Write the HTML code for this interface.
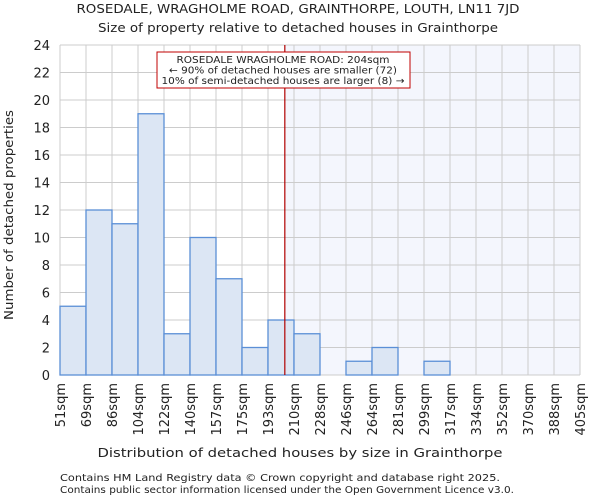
<!DOCTYPE html>
<html><head><meta charset="utf-8"><style>
body{margin:0;background:#fff;font-family:"DejaVu Sans","Liberation Sans",sans-serif}
svg text{font-family:"DejaVu Sans","Liberation Sans",sans-serif;fill:#222}
</style></head><body>
<svg id="c" width="600" height="500">
<text x="298" y="13" font-size="12.5" text-anchor="middle" textLength="443" lengthAdjust="spacingAndGlyphs">ROSEDALE, WRAGHOLME ROAD, GRAINTHORPE, LOUTH, LN11 7JD</text>
<text x="298" y="32" font-size="12.5" text-anchor="middle" textLength="400" lengthAdjust="spacingAndGlyphs">Size of property relative to detached houses in Grainthorpe</text>
<g id="grid"></g><g id="bars"></g><g id="axes"></g>
<text x="300" y="457" font-size="12.5" text-anchor="middle" textLength="405" lengthAdjust="spacingAndGlyphs">Distribution of detached houses by size in Grainthorpe</text>
<text transform="translate(13,215) rotate(-90)" font-size="12.5" text-anchor="middle" textLength="210" lengthAdjust="spacingAndGlyphs">Number of detached properties</text>
<text x="60" y="481" font-size="10" textLength="440" lengthAdjust="spacingAndGlyphs">Contains HM Land Registry data © Crown copyright and database right 2025.</text>
<text x="60" y="493" font-size="10" textLength="454" lengthAdjust="spacingAndGlyphs">Contains public sector information licensed under the Open Government Licence v3.0.</text>
</svg>
<script>
const binEdges=[51,69,86,104,122,140,157,175,193,210,228,246,264,281,299,317,334,352,370,388,405];
const counts=[5,12,11,19,3,10,7,2,4,3,0,1,2,0,1,0,0,0,0,0];
const yTicks=[0,2,4,6,8,10,12,14,16,18,20,22,24];
const propertySize=204;
const NS="http://www.w3.org/2000/svg";
const X0=60,X1=580,Y0=375,Y1=45,YMAX=24;
const nb=counts.length,bw=(X1-X0)/nb;
const xi=i=>X0+i*bw;
const y=v=>Y0-(v/YMAX)*(Y0-Y1);
function xv(v){for(let i=0;i<nb;i++){if(v<=binEdges[i+1]){return xi(i)+(v-binEdges[i])/(binEdges[i+1]-binEdges[i])*bw;}}return X1;}
function mk(t,a,p){const e=document.createElementNS(NS,t);for(const k in a)e.setAttribute(k,a[k]);p.appendChild(e);return e;}
const g=document.getElementById('grid'),b=document.getElementById('bars'),ax=document.getElementById('axes');
const px=xv(propertySize);
const sh=mk('rect',{x:px,y:Y1,width:X1-px,height:Y0-Y1,fill:'#f4f6fd'},g);


yTicks.forEach(t=>{const l=mk('line',{x1:X0,x2:X1,y1:y(t),y2:y(t),stroke:'#ccc','stroke-width':1},g);


const tx=mk('text',{x:X0-10,y:y(t)+5,'font-size':13,'text-anchor':'end'},ax);tx.textContent=t;

});
binEdges.forEach((e,i)=>{const l=mk('line',{x1:xi(i),x2:xi(i),y1:Y1,y2:Y0,stroke:'#ccc','stroke-width':1},g);


const tx=mk('text',{transform:`translate(${xi(i)+5},${Y0+8}) rotate(-90)`,'font-size':13,'text-anchor':'end'},ax);tx.textContent=e+'sqm';

});
counts.forEach((c,i)=>{if(!c)return;const r=mk('rect',{x:xi(i),y:y(c),width:bw,height:Y0-y(c),fill:'#dce6f4',stroke:'#5b8fd6','stroke-width':1.3},b);

});
const rl=mk('line',{x1:px,x2:px,y1:Y1,y2:Y0,stroke:'#b00000','stroke-width':1.2},ax);


const box=mk('rect',{x:157,y:52,width:253,height:36,fill:'#fff',stroke:'#c00000','stroke-width':1},ax);


const annLines=["ROSEDALE WRAGHOLME ROAD: 204sqm","← 90% of detached houses are smaller (72)","10% of semi-detached houses are larger (8) →"];
const annLen=[213,228,243];
annLines.forEach((s,i)=>{
const t=mk('text',{x:283,y:63+i*10.5,'font-size':10,'text-anchor':'middle',textLength:annLen[i],lengthAdjust:'spacingAndGlyphs'},ax);t.textContent=s;

});
</script>
</body></html>
